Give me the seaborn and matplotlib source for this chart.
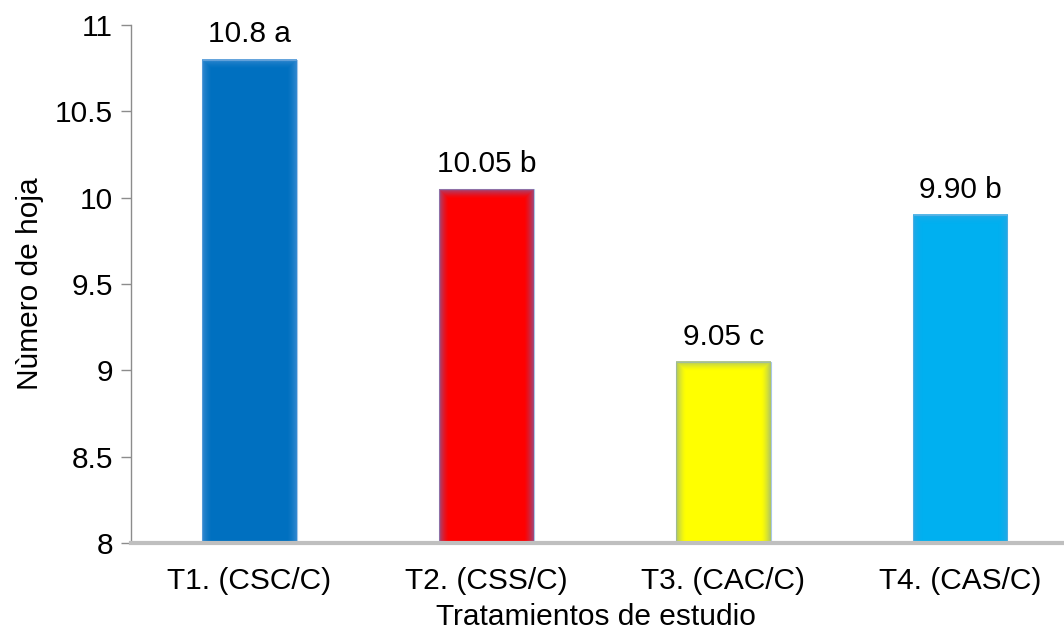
import numpy as np
import pandas as pd
import matplotlib
matplotlib.use("Agg")
import matplotlib.pyplot as plt
import seaborn as sns

# Leaf count per treatment with Tukey grouping letters
tratamientos = ["T1. (CSC/C)", "T2. (CSS/C)", "T3. (CAC/C)", "T4. (CAS/C)"]
num_hojas = [10.8, 10.05, 9.05, 9.90]
etiquetas = ["10.8 a", "10.05 b", "9.05 c", "9.90 b"]
colores = ["#0070C0", "#FF0000", "#FFFF00", "#00B0F0"]
bordes_suaves = ["#3E8ED3", "#8A5A96", "#9DB87A", "#2DA6E2"]
y_ticks = [8, 8.5, 9, 9.5, 10, 10.5, 11]

sns.set_theme(style="white")
plt.rcParams["font.family"] = ["Liberation Sans", "DejaVu Sans"]
FS = 21.5

df = pd.DataFrame({"tratamiento": tratamientos, "hojas": num_hojas})

fig = plt.figure(figsize=(10.64, 6.32), dpi=100)
ax = fig.add_axes([0.1231, 0.1408, 0.8749, 0.8196])

sns.barplot(data=df, x="tratamiento", y="hojas", hue="tratamiento",
            palette=colores, width=0.40, legend=False, ax=ax,
            edgecolor="#A9C8E8", linewidth=0.8, saturation=1)

ax.set_ylim(8, 11)
ax.set_xlim(-0.5, 3.43)
ax.set_yticks(y_ticks)
ax.set_yticklabels(["8", "8.5", "9", "9.5", "10", "10.5", "11"])

# Soft inner shading along the edges of each bar
fig.canvas.draw()
for patch, c_edge in zip(ax.patches, bordes_suaves):
    x0, w = patch.get_x(), patch.get_width()
    bb = patch.get_window_extent()
    nx, ny = max(int(bb.width), 2), max(int(bb.height), 2)
    xs = np.arange(nx) + 0.5
    ys = np.arange(ny) + 0.5
    dx = np.minimum(xs, nx - xs)[None, :]
    dy = np.minimum(ys, ny - ys)[:, None]
    d = np.minimum(np.broadcast_to(dx, (ny, nx)), np.broadcast_to(dy, (ny, nx)))
    alpha = np.clip(1 - d / 10.0, 0, 1) ** 1.5 * 0.85
    rgb = matplotlib.colors.to_rgb(c_edge)
    img = np.zeros((ny, nx, 4))
    img[..., :3] = rgb
    img[..., 3] = alpha
    ax.imshow(img, extent=(x0, x0 + w, patch.get_y(), patch.get_y() + patch.get_height()),
              aspect="auto", origin="lower", zorder=patch.get_zorder() + 0.1,
              interpolation="bilinear")
ax.set_xlim(-0.5, 3.43)
ax.set_ylim(8, 11)

for i, (v, lab) in enumerate(zip(num_hojas, etiquetas)):
    ax.annotate(lab, xy=(i, v), xytext=(0, 8), textcoords="offset points",
                ha="center", va="bottom", fontsize=FS, color="black")

ax.set_xlabel("Tratamientos de estudio", fontsize=FS, color="black", labelpad=6)
ax.set_ylabel("Nùmero de hoja", fontsize=FS, color="black", labelpad=8)

for s in ["top", "right"]:
    ax.spines[s].set_visible(False)
ax.spines["left"].set_color("#8C8C8C")
ax.spines["left"].set_linewidth(1.0)
ax.spines["bottom"].set_color("#BFBFBF")
ax.spines["bottom"].set_linewidth(3.0)

ax.tick_params(axis="y", which="major", direction="out", length=7, width=1,
               color="#8C8C8C", labelsize=FS, labelcolor="black", pad=6, left=True)
ax.tick_params(axis="x", which="major", length=0, labelsize=FS,
               labelcolor="black", pad=17)

fig.savefig("out.png", dpi=100)
